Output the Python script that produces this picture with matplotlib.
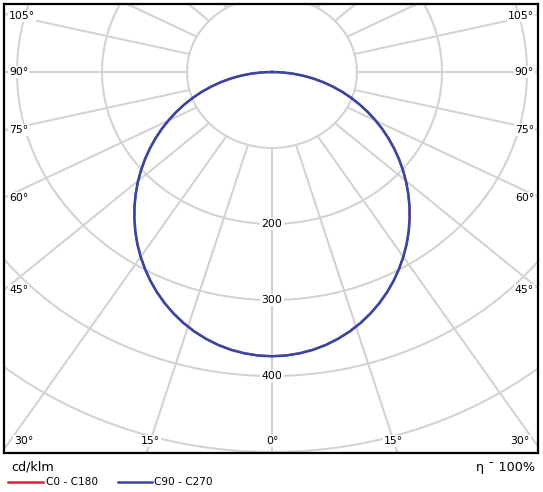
import numpy as np
import matplotlib
matplotlib.use("Agg")
import matplotlib.pyplot as plt

# ---- data (cd/klm vs gamma angle, symmetric) ----
gamma_deg = [0, 2.5, 5, 7.5, 10, 12.5, 15, 17.5, 20, 22.5, 25, 27.5, 30, 32.5, 35, 37.5, 40,
             42.5, 45, 47.5, 50, 52.5, 55, 57.5, 60, 62.5, 65, 67.5, 70, 72.5, 75, 77.5, 80,
             82.5, 85, 87.5, 90]
c0_c180 = [374, 373.4, 371.6, 368.7, 364.7, 359.5, 353.4, 346.3, 338.3, 329.5, 320.0, 309.8,
           299.0, 287.8, 276.2, 264.2, 251.9, 239.4, 226.8, 214.0, 201.2, 188.3, 175.4, 162.5,
           149.7, 136.9, 124.2, 111.5, 98.9, 86.4, 73.9, 61.5, 49.1, 36.8, 24.5, 12.2, 0]
c90_c270 = [374, 373.4, 371.6, 368.7, 364.7, 359.5, 353.4, 346.3, 338.3, 329.5, 320.0, 309.8,
            299.0, 287.8, 276.2, 264.2, 251.9, 239.4, 226.8, 214.0, 201.2, 188.3, 175.4, 162.5,
            149.7, 136.9, 124.2, 111.5, 98.9, 86.4, 73.9, 61.5, 49.1, 36.8, 24.5, 12.2, 0]
ring_values = [100, 200, 300, 400, 500, 600]
ring_labels = ["200", "300", "400"]
side_angles = [45, 60, 75, 90, 105]
bottom_angles = [0, 15, 30]
series_names = ["C0 - C180", "C90 - C270"]
series_colors = ["#e8202e", "#3a47a0"]
unit_label = "cd/klm"
eta_label = "η ¯ 100%"

W, H = 543, 492
fig = plt.figure(figsize=(W / 100, H / 100), dpi=100)
# frame in pixels
fl, fr, ft, fb = 4, 538, 4, 453
cx, cy = 272, 72
sx, sy = 0.85, 0.76
fline = 1.1  # horizontal stretch of the radial spokes
ax = fig.add_axes([fl / W, (H - fb) / H, (fr - fl) / W, (fb - ft) / H])
xmin, xmax = (fl - cx) / sx, (fr - cx) / sx
ymin, ymax = -(fb - cy) / sy, (cy - ft) / sy
ax.set_xlim(xmin, xmax)
ax.set_ylim(ymin, ymax)
ax.set_xticks([])
ax.set_yticks([])
for s in ax.spines.values():
    s.set_linewidth(1.6)
    s.set_color("black")

grid_c = "#d3d3d3"
gw = 1.5
t = np.linspace(0, 2 * np.pi, 600)
for r in ring_values:
    ax.plot(r * np.sin(t), r * np.cos(t), color=grid_c, lw=gw, zorder=1)


def spoke_dir(a):
    ar = np.radians(a)
    d = np.array([fline * np.sin(ar), -np.cos(ar)])
    return d / np.hypot(*d)


for a in range(0, 360, 15):
    d = spoke_dir(a)
    ax.plot([100 * d[0], 900 * d[0]], [100 * d[1], 900 * d[1]], color=grid_c, lw=gw, zorder=1)

bb = dict(boxstyle="square,pad=0.1", fc="white", ec="none")
fs = 7.8
for lab in ring_labels:
    v = float(lab)
    ax.text(0, -v, lab, ha="center", va="center", fontsize=fs, bbox=bb, zorder=3)

# side labels
for a in side_angles:
    d = spoke_dir(a)
    yv = (-xmin / d[0]) * d[1]
    yv = min(yv, ymax - 12 / sy)
    ax.text(xmin + 5 / sx, yv, f"{a}°", ha="left", va="center", fontsize=fs, bbox=bb, zorder=3)
    ax.text(xmax - 4 / sx, yv, f"{a}°", ha="right", va="center", fontsize=fs, bbox=bb, zorder=3)
# bottom labels: centred where the spoke crosses the label line
ylab = ymin + 12 / sy
for a in bottom_angles:
    d = spoke_dir(a)
    xv = (ylab / d[1]) * d[0]
    xv = min(xv, xmax - 18 / sx)
    for sgn in ([1] if a == 0 else [-1, 1]):
        ax.text(sgn * xv, ylab, f"{a}°", ha="center", va="center", fontsize=fs, bbox=bb, zorder=3)

# curves
g = np.radians(np.array(gamma_deg))
for vals, col, lw in zip([c0_c180, c90_c270], series_colors, [1.4, 1.9]):
    v = np.array(vals, dtype=float)
    ang = np.concatenate([-g[::-1], g[1:]])
    rr = np.concatenate([v[::-1], v[1:]])
    ax.plot(rr * np.sin(ang), -rr * np.cos(ang), color=col, lw=lw, zorder=4,
            solid_joinstyle="round")

# legend / footer
fig.text(11 / W, 1 - 467 / H, unit_label, ha="left", va="center", fontsize=9.2)
fig.text(535 / W, 1 - 467 / H, eta_label, ha="right", va="center", fontsize=9.2)
ly = 1 - 482 / H
for (x0, x1, tx), name, col in zip([(8, 43, 46), (118, 152, 154)], series_names, series_colors):
    fig.add_artist(plt.Line2D([x0 / W, x1 / W], [ly, ly], color=col, lw=1.8))
    fig.text(tx / W, ly, name, ha="left", va="center", fontsize=7.6)

fig.savefig("out.png", dpi=100)
